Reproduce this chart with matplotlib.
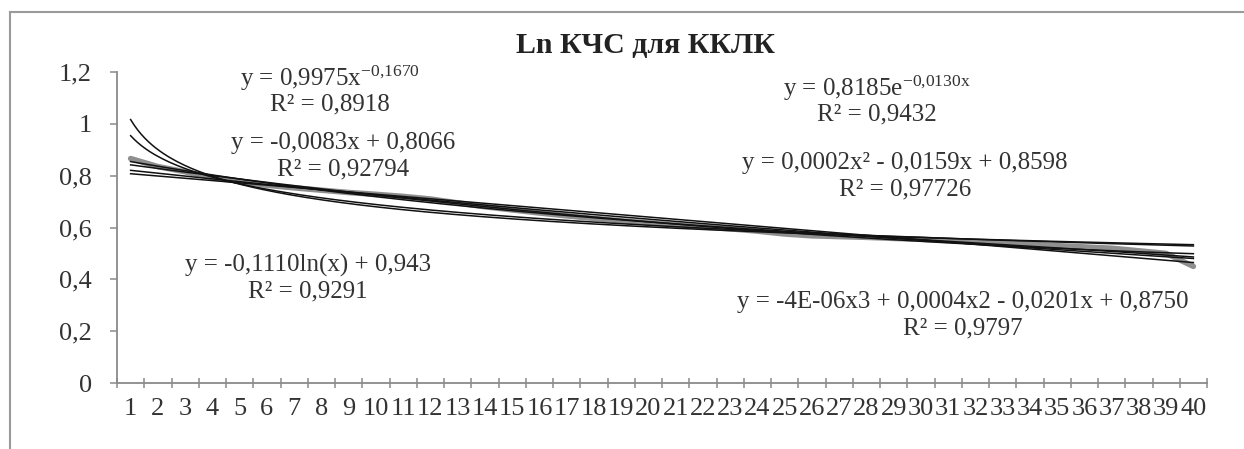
import matplotlib
matplotlib.use("Agg")
import matplotlib.pyplot as plt
from matplotlib.lines import Line2D
import numpy as np

plt.rcParams['font.family'] = ['Liberation Serif', 'DejaVu Serif']
plt.rcParams['mathtext.fontset'] = 'custom'
plt.rcParams['mathtext.rm'] = 'Liberation Serif'
plt.rcParams['mathtext.it'] = 'Liberation Serif:italic'

# данные (Ln КЧС), категории 1..40
categories = np.arange(1, 41)
ln_kchs = [0.866, 0.835, 0.815, 0.792, 0.778, 0.763, 0.753, 0.744, 0.735, 0.728,
           0.72, 0.71, 0.695, 0.68, 0.668, 0.656, 0.645, 0.635, 0.626, 0.618,
           0.61, 0.602, 0.595, 0.586, 0.575, 0.568, 0.565, 0.562, 0.558, 0.555,
           0.55, 0.545, 0.54, 0.535, 0.53, 0.525, 0.52, 0.51, 0.50, 0.45]

title = "Ln КЧС для ККЛК"
ytick_vals = [0, 0.2, 0.4, 0.6, 0.8, 1.0, 1.2]
ytick_labels = ["0", "0,2", "0,4", "0,6", "0,8", "1", "1,2"]

# подписи уравнений трендов (текст, центр x/y в пикселях)
eq_texts = [
    (r"y = 0,9975x$^{\mathrm{-0{,}1670}}$", "R² = 0,8918", 330, 78),
    ("y = -0,0083x + 0,8066", "R² = 0,92794", 343, 143),
    ("y = -0,1110ln(x) + 0,943", "R² = 0,9291", 308, 265),
    (r"y = 0,8185e$^{\mathrm{-0{,}0130x}}$", "R² = 0,9432", 877, 88),
    ("y = 0,0002x² - 0,0159x + 0,8598", "R² = 0,97726", 905, 163),
    ("y = -4E-06x3 + 0,0004x2 - 0,0201x + 0,8750", "R² = 0,9797", 963, 302),
]

W, H = 1244, 449
fig = plt.figure(figsize=(W / 100, H / 100), dpi=100)
ax = fig.add_axes([117 / W, 1 - 383 / H, (1207 - 117) / W, (383 - 72) / H])

x = categories.astype(float)
y = np.array(ln_kchs)
xs = np.linspace(1, 40, 300)

# линии тренда, посчитанные по данным
p_pow = np.polyfit(np.log(x), np.log(y), 1)
p_lin = np.polyfit(x, y, 1)
p_log = np.polyfit(np.log(x), y, 1)
p_exp = np.polyfit(x, np.log(y), 1)
p_2 = np.polyfit(x, y, 2)
p_3 = np.polyfit(x, y, 3)
trends = [
    np.exp(np.polyval(p_pow, np.log(xs))),
    np.polyval(p_lin, xs),
    np.polyval(p_log, np.log(xs)),
    np.exp(np.polyval(p_exp, xs)),
    np.polyval(p_2, xs),
    np.polyval(p_3, xs),
]

ax.plot(x, y, color='#8f8f8f', lw=4, solid_capstyle='round', zorder=2)
for t in trends:
    ax.plot(xs, t, color='#111111', lw=1.1, zorder=3)

ax.set_xlim(0.5, 40.5)
ax.set_ylim(0, 1.2)
ax.set_yticks(ytick_vals)
ax.set_yticklabels(ytick_labels)
ax.set_xticks(categories)
ax.set_xticklabels([str(c) for c in categories])
ax.set_xticks(np.arange(0.5, 41, 1), minor=True)

for s in ['top', 'right']:
    ax.spines[s].set_visible(False)
for s in ['left', 'bottom']:
    ax.spines[s].set_color('#8a8a8a')
    ax.spines[s].set_linewidth(1.3)

ax.tick_params(axis='y', direction='out', length=5, width=1.1, color='#8a8a8a',
               pad=13, labelsize=19, labelcolor='#333333')
ax.tick_params(axis='x', which='major', length=0, pad=11, labelsize=19,
               labelcolor='#333333')
ax.tick_params(axis='x', which='minor', direction='inout', length=7, width=1.1,
               color='#8a8a8a')

fig.text(645 / W, 1 - 46 / H, title, ha='center', va='center', fontsize=21.5,
         fontweight='bold', color='#222222')

for eq, r2, cx, cy in eq_texts:
    fig.text(cx / W, 1 - cy / H, eq, ha='center', va='center', fontsize=18,
             color='#333333')
    fig.text(cx / W, 1 - (cy + 26) / H, r2, ha='center', va='center',
             fontsize=18, color='#333333')

# рамка области диаграммы
fig.add_artist(Line2D([10 / W, 10 / W], [0, 1 - 12 / H], color='#9a9a9a', lw=1.5))
fig.add_artist(Line2D([10 / W, 1], [1 - 12 / H, 1 - 12 / H], color='#9a9a9a', lw=1.5))

fig.savefig("out.png", dpi=100)
